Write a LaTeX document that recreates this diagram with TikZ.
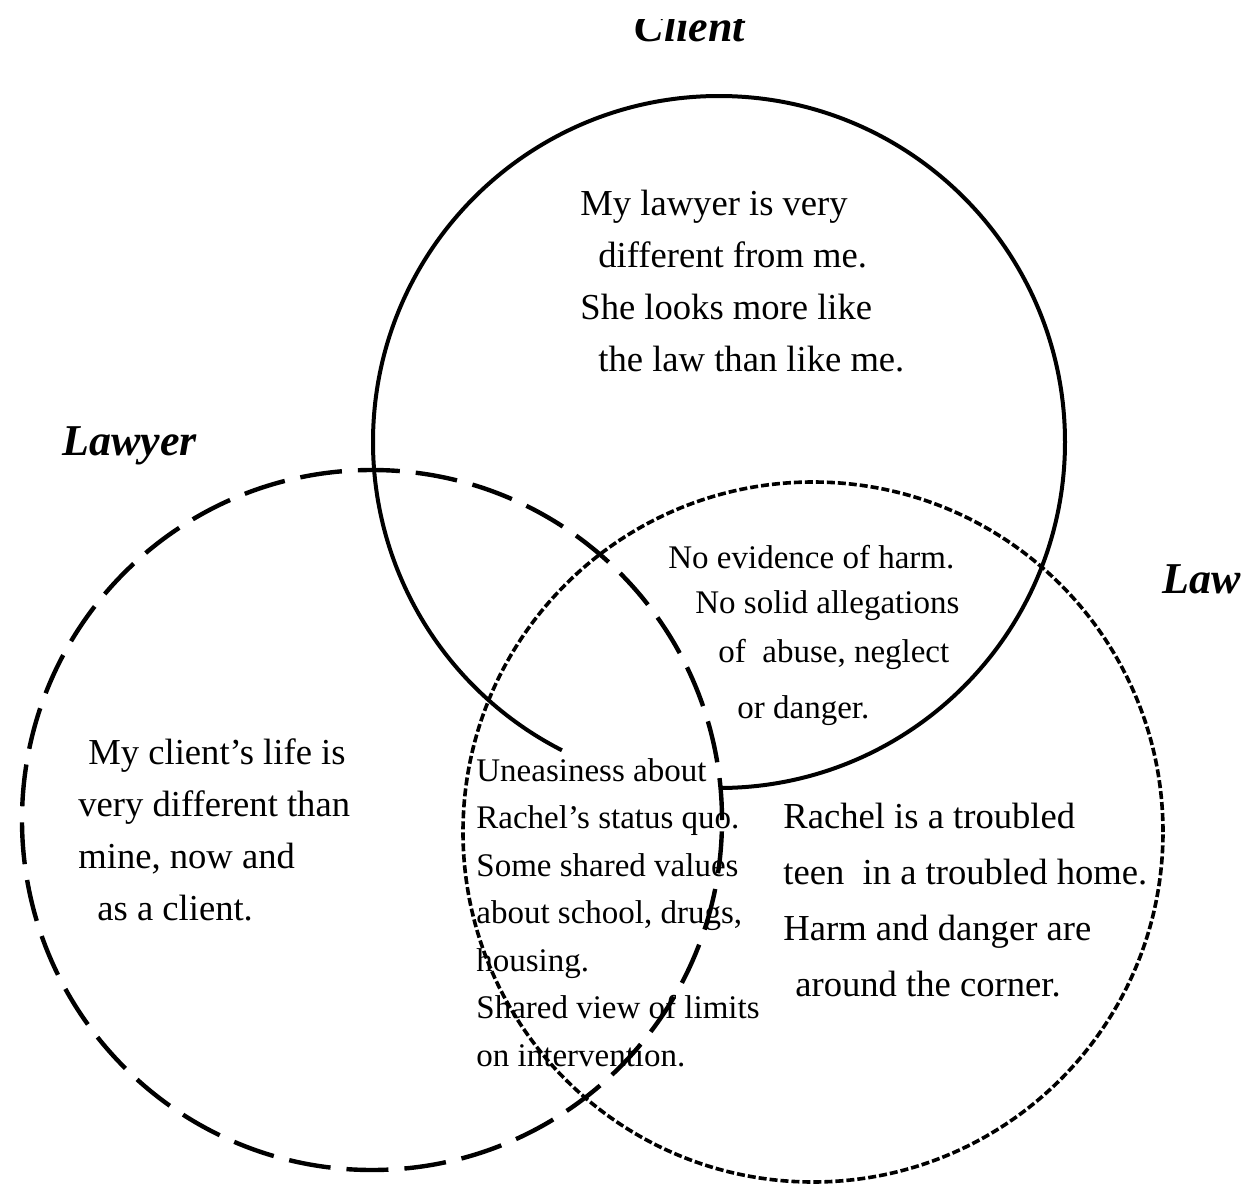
\documentclass[tikz,border=0pt]{standalone}
\usepackage{fontspec}
\setmainfont{Liberation Serif}
\begin{document}
\begin{tikzpicture}[x=0.5pt, y=0.5pt,
    clientline/.style={line width=2pt},
    lawyerline/.style={line width=2.2pt, dash pattern=on 21pt off 8pt},
    lawline/.style={line width=1.8pt, dash pattern=on 4pt off 1.5pt},
    circlename/.style={font=\fontsize{22}{26}\selectfont\bfseries\itshape, inner sep=0pt, anchor=base west},
    note/.style={font=\fontsize{16.5}{26}\selectfont, align=left, inner sep=0pt, anchor=north west},
    bignote/.style={note, font=\fontsize{18.3}{26}\selectfont}]
    \clip (0,0) rectangle (1255,-1189) ;
    % circle centres
    \coordinate (clientc) at (719,-442) ;
    \coordinate (lawyerc) at (372,-820) ;
    \coordinate (lawc) at (813,-832) ;
    % the three circles
    \draw [clientline] ([shift={(-90:173pt)}]clientc) arc [start angle=-90, end angle=243, radius=173pt] ;
    \draw [lawyerline] (lawyerc) circle [radius=175pt] ;
    \draw [lawline] (lawc) circle [radius=175pt] ;
    % names (the top one is cut off as in the scan)
    \begin{scope}
        \clip (0,-19) rectangle (1255,-100) ;
        \node [circlename, anchor=base] (clientname) at (690,-41) {Client} ;
    \end{scope}
    \node [circlename] (lawyername) at (62,-455) {Lawyer} ;
    \node [circlename] (lawname) at (1162,-593) {Law} ;
    % texts
    \node [bignote] (clientonly) at (580,-190) {My lawyer is very\\
        \hspace*{9pt}different from me.\\
        She looks more like\\
        \hspace*{9pt}the law than like me.} ;
    \node [note, font=\fontsize{16.5}{23}\selectfont] (clientlaw) at (668,-545) {No evidence of harm.\\[-0.5pt]
        \hspace*{13.5pt}No solid allegations\\[1.5pt]
        \hspace*{25pt}of\ \ abuse, neglect\\[5pt]
        \hspace*{34.5pt}or danger.} ;
    \node [bignote] (lawyeronly) at (78,-738) {\hspace*{5pt}My client’s life is\\
        very different than\\
        mine, now and\\
        \hspace*{9.5pt}as a client.} ;
    \node [note, font=\fontsize{16.5}{23.75}\selectfont] (shared) at (476,-758) {Uneasiness about\\
        Rachel’s status quo.\\
        Some shared values\\
        about school, drugs,\\
        housing.\\
        Shared view of limits\\
        on intervention.} ;
    \node [bignote, font=\fontsize{18.3}{28}\selectfont] (lawonly) at (783,-803) {Rachel is a troubled\\
        teen\ \ in a troubled home.\\
        Harm and danger are\\
        \hspace*{6pt}around the corner.} ;
\end{tikzpicture}
\end{document}
